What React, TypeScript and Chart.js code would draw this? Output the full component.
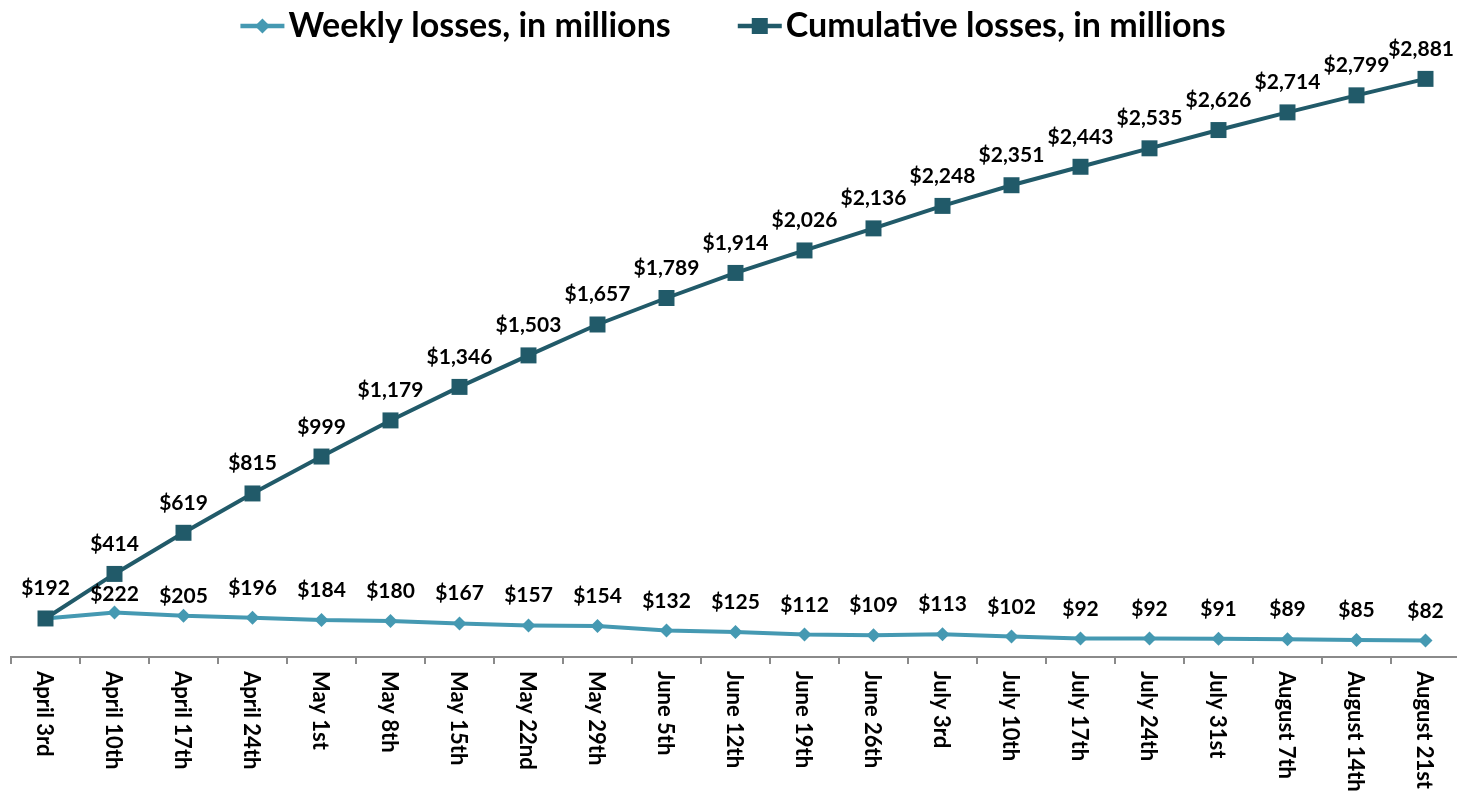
import React, { useEffect, useRef } from "react";
import { Chart, registerables } from "chart.js";

Chart.register(...registerables);

const categories = [
  "April 3rd", "April 10th", "April 17th", "April 24th",
  "May 1st", "May 8th", "May 15th", "May 22nd", "May 29th",
  "June 5th", "June 12th", "June 19th", "June 26th",
  "July 3rd", "July 10th", "July 17th", "July 24th", "July 31st",
  "August 7th", "August 14th", "August 21st",
];

const weeklyLosses = [192, 222, 205, 196, 184, 180, 167, 157, 154, 132, 125, 112, 109, 113, 102, 92, 92, 91, 89, 85, 82];

const cumulativeLosses = [192, 414, 619, 815, 999, 1179, 1346, 1503, 1657, 1789, 1914, 2026, 2136, 2248, 2351, 2443, 2535, 2626, 2714, 2799, 2881];

const seriesNames = ["Weekly losses, in millions", "Cumulative losses, in millions"];

const yMin = 0;
const yMax = 3000;

const WEEKLY_COLOR = "#4599b2";
const CUMUL_COLOR = "#215a69";
const AXIS_COLOR = "#8a8a8a";
const FONT = "Lato, 'Open Sans', sans-serif";

// label styling: baseline lift above point, with a couple of manual nudges
const LABEL_LIFT = 23;
const weeklyLabelLiftOverride: Record<number, number> = { 1: 11, 2: 13 };
const hiddenWeeklyLabels = new Set([0]);

const fmt = (v: number) => "$" + v.toLocaleString("en-US");

const overlayPlugin = {
  id: "overlay",
  afterDatasetsDraw(chart: any) {
    const ctx = chart.ctx as CanvasRenderingContext2D;
    const W = 1457;

    // data labels
    ctx.save();
    ctx.fillStyle = "#000";
    ctx.font = `bold 21px ${FONT}`;
    ctx.textAlign = "center";
    ctx.textBaseline = "alphabetic";
    chart.data.datasets.forEach((ds: any, di: number) => {
      const meta = chart.getDatasetMeta(di);
      meta.data.forEach((pt: any, i: number) => {
        if (di === 0 && hiddenWeeklyLabels.has(i)) return;
        const txt = fmt(ds.data[i]);
        const w = ctx.measureText(txt).width;
        let x = pt.x;
        if (x + w / 2 > W - 3) x = W - 3 - w / 2;
        const lift = di === 0 && weeklyLabelLiftOverride[i] !== undefined ? weeklyLabelLiftOverride[i] : LABEL_LIFT;
        ctx.fillText(txt, x, pt.y - lift);
      });
    });
    ctx.restore();

    // rotated category labels (reading top to bottom)
    const xs = chart.scales.x;
    ctx.save();
    ctx.fillStyle = "#000";
    ctx.font = `bold 22px ${FONT}`;
    ctx.textAlign = "left";
    ctx.textBaseline = "middle";
    categories.forEach((c, i) => {
      const x = xs.getPixelForValue(i);
      ctx.save();
      ctx.translate(x - 1, xs.top + 14);
      ctx.rotate(Math.PI / 2);
      ctx.fillText(c, 0, 0);
      ctx.restore();
    });
    ctx.restore();

    // legend
    ctx.save();
    ctx.font = `bold 34px ${FONT}`;
    const w1 = ctx.measureText(seriesNames[0]).width;
    const w2 = ctx.measureText(seriesNames[1]).width;
    const lineLen = 44;
    const gap = 67;
    const total = lineLen + 4 + w1 + gap + lineLen + 4 + w2;
    let x0 = 733 - total / 2;
    const ly = 26;
    const baseline = 37;

    // item 1
    ctx.strokeStyle = WEEKLY_COLOR;
    ctx.lineWidth = 4.5;
    ctx.beginPath();
    ctx.moveTo(x0, ly);
    ctx.lineTo(x0 + lineLen, ly);
    ctx.stroke();
    ctx.fillStyle = WEEKLY_COLOR;
    const dc = x0 + lineLen / 2;
    ctx.beginPath();
    ctx.moveTo(dc, ly - 7.5);
    ctx.lineTo(dc + 7.5, ly);
    ctx.lineTo(dc, ly + 7.5);
    ctx.lineTo(dc - 7.5, ly);
    ctx.closePath();
    ctx.fill();
    ctx.fillStyle = "#000";
    ctx.textAlign = "left";
    ctx.textBaseline = "alphabetic";
    ctx.fillText(seriesNames[0], x0 + lineLen + 4, baseline);

    // item 2
    let x1 = x0 + lineLen + 4 + w1 + gap;
    ctx.strokeStyle = CUMUL_COLOR;
    ctx.beginPath();
    ctx.moveTo(x1, ly);
    ctx.lineTo(x1 + lineLen, ly);
    ctx.stroke();
    ctx.fillStyle = CUMUL_COLOR;
    const sc = x1 + lineLen / 2;
    ctx.fillRect(sc - 8, ly - 8, 16, 16);
    ctx.fillStyle = "#000";
    ctx.fillText(seriesNames[1], x1 + lineLen + 4, baseline);
    ctx.restore();
  },
};

export default function App() {
  const canvasRef = useRef<HTMLCanvasElement | null>(null);

  useEffect(() => {
    const canvas = canvasRef.current;
    if (!canvas) return;
    const chart = new Chart(canvas, {
      type: "line",
      data: {
        labels: categories,
        datasets: [
          {
            label: seriesNames[0],
            data: weeklyLosses,
            borderColor: WEEKLY_COLOR,
            backgroundColor: WEEKLY_COLOR,
            borderWidth: 4,
            pointStyle: "rectRot",
            pointRadius: 7,
            pointBorderWidth: 0,
            tension: 0,
            clip: false as any,
            order: 2,
          },
          {
            label: seriesNames[1],
            data: cumulativeLosses,
            borderColor: CUMUL_COLOR,
            backgroundColor: CUMUL_COLOR,
            borderWidth: 4,
            pointStyle: "rect",
            pointRadius: 11.3,
            pointBorderWidth: 0,
            tension: 0,
            clip: false as any,
            order: 1,
          },
        ],
      },
      options: {
        responsive: false,
        animation: false,
        devicePixelRatio: 1,
        layout: { autoPadding: false, padding: { top: 55, left: 11, right: 0, bottom: 0 } },
        plugins: {
          legend: { display: false },
          tooltip: { enabled: false },
        },
        scales: {
          x: {
            type: "category",
            offset: true,
            grid: {
              display: true,
              offset: true,
              drawOnChartArea: false,
              drawTicks: true,
              tickLength: 7,
              color: AXIS_COLOR,
              lineWidth: 2,
            },
            border: { display: true, color: AXIS_COLOR, width: 2 },
            ticks: { display: false },
            afterFit: (s: any) => {
              s.height = 792 - 657;
            },
          },
          y: {
            display: false,
            min: yMin,
            max: yMax,
          },
        },
      },
      plugins: [overlayPlugin],
    });
    return () => chart.destroy();
  }, []);

  return (
    <div
      style={{
        position: "fixed",
        left: 0,
        top: 0,
        width: 1457,
        height: 792,
        overflow: "hidden",
        background: "#fff",
      }}
    >
      <canvas
        ref={canvasRef}
        width={1460}
        height={792}
        style={{ display: "block", width: 1460, height: 792 }}
      />
    </div>
  );
}
